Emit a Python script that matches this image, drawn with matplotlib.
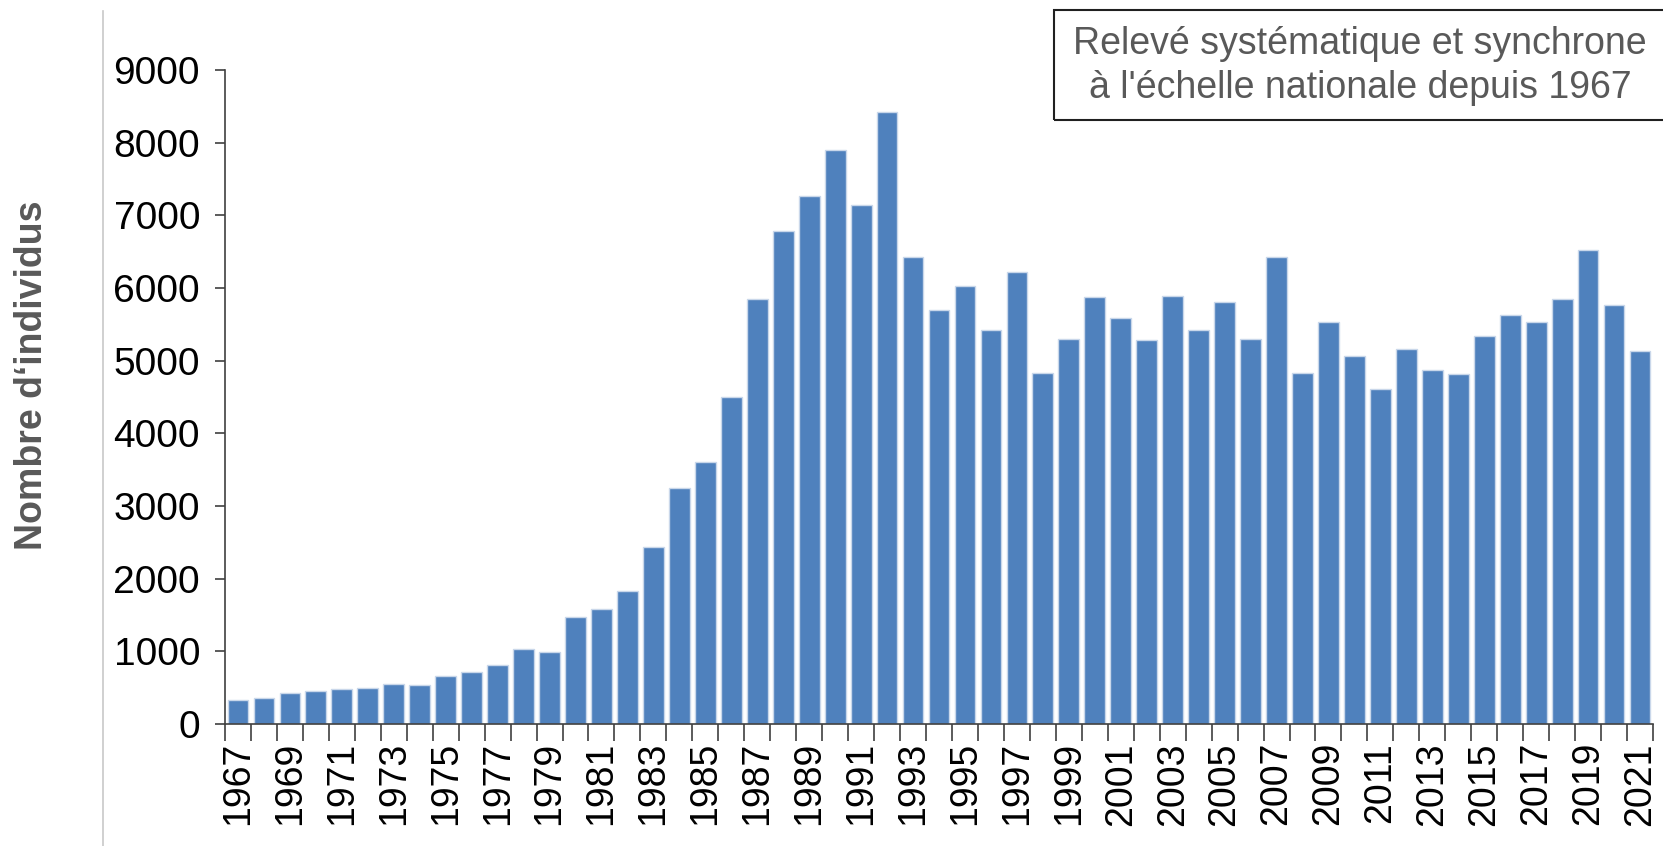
import matplotlib
matplotlib.use("Agg")
import matplotlib.pyplot as plt
import numpy as np

# Annual counts, 1967-2021
years = list(range(1967, 2022))
counts = [
    335, 354, 428, 459, 483, 496, 556, 537, 661, 716,
    810, 1037, 986, 1475, 1579, 1832, 2432, 3242, 3605, 4505,
    5842, 6784, 7263, 7900, 7140, 8421, 6433, 5696, 6021, 5421,
    6218, 4824, 5297, 5875, 5586, 5278, 5893, 5421, 5803, 5297,
    6420, 4829, 5531, 5067, 4613, 5154, 4870, 4815, 5338, 5622,
    5531, 5842, 6525, 5766, 5134,
]
yticks = list(range(0, 10000, 1000))
box_text = "Relevé systématique et synchrone\nà l'échelle nationale depuis 1967"
ylabel = "Nombre d‘individus"

plt.rcParams["font.family"] = ["Liberation Sans", "DejaVu Sans"]

fig = plt.figure(figsize=(16.63, 8.46), dpi=100)
ax = fig.add_axes([0.1353, 0.1442, 0.8587, 0.7731])

x = np.arange(len(years))
ax.bar(x, counts, width=0.8, color="#4F81BD", edgecolor="#C9D7EA", linewidth=1)

ax.set_xlim(-0.5, len(years) - 0.5)
ax.set_ylim(0, 9000)
ax.set_yticks(yticks)
ax.tick_params(axis="y", labelsize=28, length=7, width=1.2, color="#404040", pad=11)

# year labels every other bar, tick marks between bars
ax.set_xticks(x[::2])
ax.set_xticklabels([str(y) for y in years[::2]], rotation=90)
ax.set_xticks(np.arange(-0.5, len(years), 1), minor=True)
ax.tick_params(axis="x", which="major", length=0, labelsize=27, pad=13)
ax.tick_params(axis="x", which="minor", length=12, width=1.2, color="#404040")

for side in ["top", "right"]:
    ax.spines[side].set_visible(False)
ax.spines["left"].set_color("#404040")
ax.spines["bottom"].set_color("#404040")
ax.spines["left"].set_linewidth(1.2)
ax.spines["bottom"].set_linewidth(1.2)

fig.text(0.0195, 0.556, ylabel, rotation=90, ha="center", va="center",
         fontsize=27, fontweight="bold", color="#595959",
         family=["Liberation Sans Narrow", "Liberation Sans", "DejaVu Sans"])

# thin gray line at the left
fig.add_artist(plt.Line2D([103 / 1663, 103 / 1663], [0, 1 - 11 / 846],
                          color="#C8C8C8", linewidth=1.2))

# annotation box
fig.add_artist(plt.Rectangle((1054 / 1663, 1 - 120 / 846), 0.4, 110 / 846,
                             fill=False, edgecolor="#202020", linewidth=1.5))
fig.text(1360 / 1663, 1 - 66 / 846, box_text, ha="center", va="center",
         fontsize=27, color="#595959", linespacing=1.3)

fig.savefig("out.png", dpi=100)
